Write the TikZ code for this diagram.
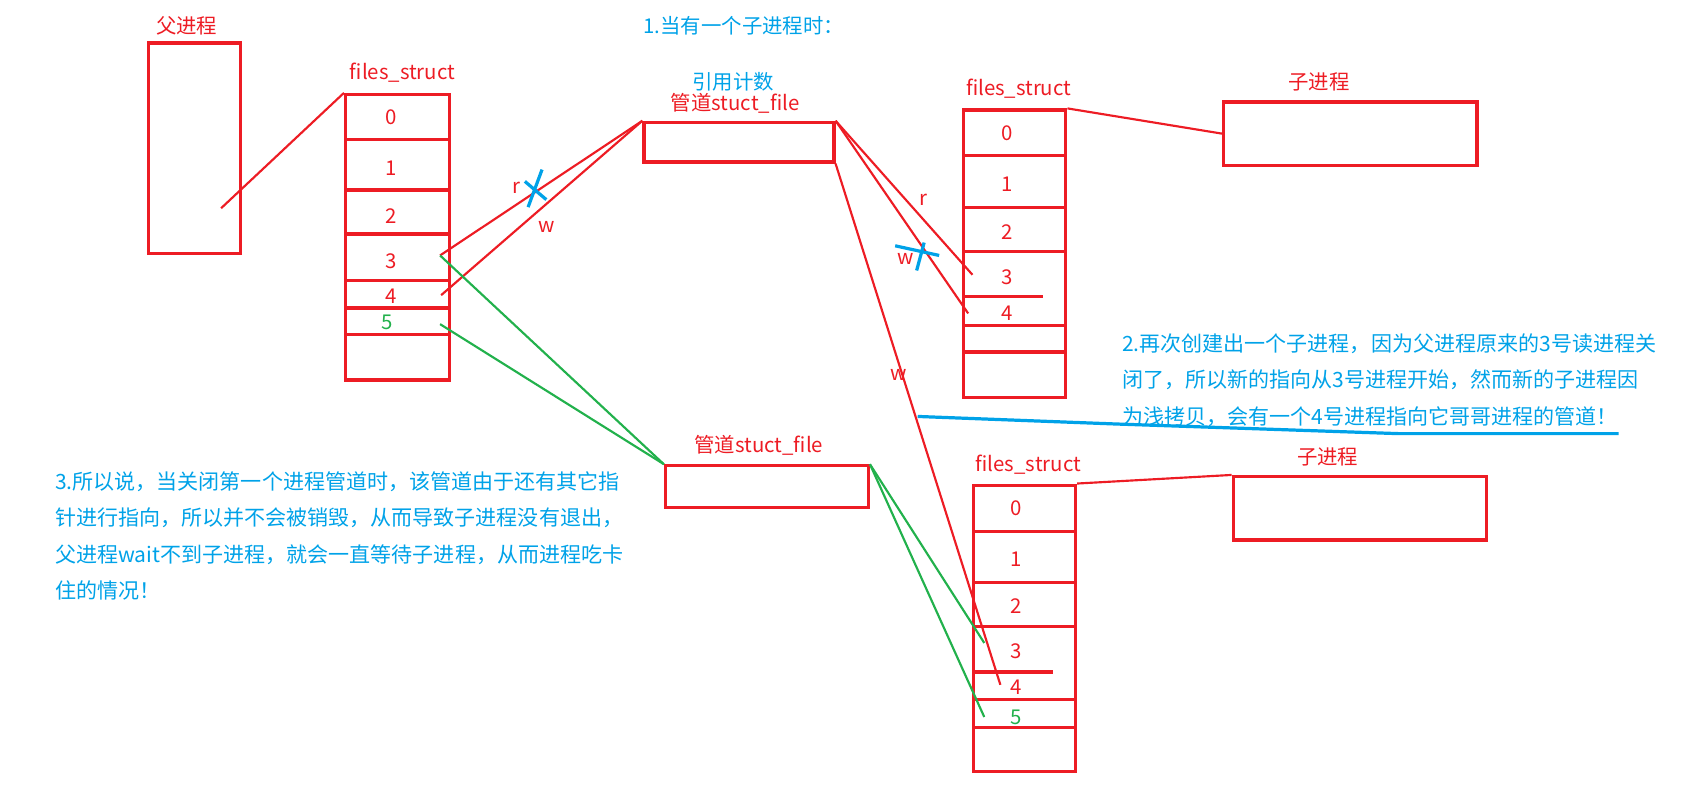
\documentclass[tikz,border=0pt]{standalone}
\usepackage{fontspec}
\setmainfont{Noto Sans CJK SC}
\usetikzlibrary{fit}
\definecolor{pred}{RGB}{237,28,36}
\definecolor{pblue}{RGB}{0,162,232}
\definecolor{pgreen}{RGB}{34,177,76}
\begin{document}
\begin{tikzpicture}[x=0.5pt,y=-0.5pt,
  rbox/.style={draw=pred, line width=1.5pt, inner sep=0pt},
  sepline/.style={draw=pred, line width=1.5pt},
  rline/.style={draw=pred, line width=1pt},
  gline/.style={draw=pgreen, line width=1pt},
  bmark/.style={draw=pblue, line width=1.5pt},
  rlbl/.style={text=pred, font=\fontsize{9.5}{11}\selectfont, inner sep=0pt},
  glbl/.style={text=pgreen, font=\fontsize{9.5}{11}\selectfont, inner sep=0pt},
  blbl/.style={text=pblue, font=\fontsize{9.5}{11}\selectfont, inner sep=0pt},
  para/.style={text=pblue, font=\fontsize{9.8}{17}\selectfont, inner sep=0pt, align=left, anchor=west}
]
\useasboundingbox (0,0) rectangle (1568,732);

% ---------- titles / notes ----------
\node[blbl] (title1) at (693,24) {1.当有一个子进程时：};
\node[para] (note2) at (1045,354) {2.再次创建出一个子进程，因为父进程原来的3号读进程关\\闭了，所以新的指向从3号进程开始，然而新的子进程因\\为浅拷贝，会有一个4号进程指向它哥哥进程的管道！};
\node[para] (note3) at (51,499.5) {3.所以说，当关闭第一个进程管道时，该管道由于还有其它指\\针进行指向，所以并不会被销毁，从而导致子进程没有退出，\\父进程wait不到子进程，就会一直等待子进程，从而进程吃卡\\住的情况！};

% ---------- parent process ----------
\node[rlbl] (plabel) at (174,24) {父进程};
\node[rbox, fit={(138,40) (224,236)}] (parent) {};

% ---------- left files_struct ----------
\node[rlbl] (ltlabel) at (375,68) {files\_struct};
\node[rbox, fit={(322,88) (419,354)}] (lt) {};
\foreach \yy in {130,177,218,261,287,312} \draw[sepline] (322,\yy) -- (419,\yy);
\node[rlbl] (l0) at (364,109) {0};
\node[rlbl] (l1) at (364,157) {1};
\node[rlbl] (l2) at (364,201) {2};
\node[rlbl] (l3n) at (364,243) {3};
\node[rlbl] (l4n) at (364,276) {4};
\node[glbl] (l5n) at (361,300) {5};

% ---------- pipe 1 ----------
\node[blbl] (refcnt) at (683,76) {引用计数};
\node[rlbl] (p1label) at (685,96) {管道stuct\_file};
\node[rbox, fit={(600,114) (777,151)}] (pipe1) {};

% ---------- pipe 2 ----------
\node[rlbl] (p2label) at (707,415) {管道stuct\_file};
\node[rbox, fit={(620,434) (809,473)}] (pipe2) {};

% ---------- upper right files_struct ----------
\node[rlbl] (utlabel) at (949,83) {files\_struct};
\node[rbox, fit={(898,102.5) (993,370)}] (ut) {};
\foreach \yy in {145,193,234,303,328} \draw[sepline] (898,\yy) -- (993,\yy);
\draw[sepline] (898,276.5) -- (972,276.5);
\node[rlbl] (u0) at (938,124) {0};
\node[rlbl] (u1) at (938,172) {1};
\node[rlbl] (u2) at (938,216) {2};
\node[rlbl] (u3n) at (938,258) {3};
\node[rlbl] (u4n) at (938,292) {4};

% ---------- child 1 ----------
\node[rlbl] (c1label) at (1229,76) {子进程};
\node[rbox, fit={(1140,95) (1376,154)}] (child1) {};

% ---------- lower right files_struct ----------
\node[rlbl] (dtlabel) at (958,433) {files\_struct};
\node[rbox, fit={(907,452) (1002,719)}] (dt) {};
\foreach \yy in {495,542.6,584,652,678} \draw[sepline] (907,\yy) -- (1002,\yy);
\draw[sepline] (907,626) -- (981,626);
\node[rlbl] (d0) at (947,473.6) {0};
\node[rlbl] (d1) at (947,521) {1};
\node[rlbl] (d2) at (947,565) {2};
\node[rlbl] (d3n) at (947,607) {3};
\node[rlbl] (d4n) at (947,640) {4};
\node[glbl] (d5n) at (947,668) {5};

% ---------- child 2 ----------
\node[rlbl] (c2label) at (1237,426) {子进程};
\node[rbox, fit={(1149,444) (1385,503)}] (child2) {};

% ---------- connector end points ----------
\coordinate (pin) at (206,194);
\coordinate (l3) at (410,238);
\coordinate (l4) at (411,275);
\coordinate (l5) at (410,302);
\coordinate (u3) at (906,256);
\coordinate (u4) at (902,292);
\coordinate (d3) at (917,599);
\coordinate (d4) at (932,638);
\coordinate (d5) at (917,668);

% ---------- connectors ----------
\draw[rline] (pin) -- (lt.north west);
\draw[rline] (l3) -- (pipe1.north west);
\draw[rline] (l4) -- (pipe1.north west);
\draw[gline] (l3) -- (pipe2.north west);
\draw[gline] (l5) -- (pipe2.north west);
\draw[rline] (pipe1.north east) -- (u3);
\draw[rline] (pipe1.north east) -- (u4);
\draw[rline] (pipe1.south east) -- (d4);
\draw[gline] (pipe2.north east) -- (d3);
\draw[gline] (pipe2.north east) -- (d5);
\draw[rline] (ut.north east) -- (child1.west);
\draw[rline] (dt.north east) -- (child2.north west);

% ---------- r / w labels ----------
\node[rlbl] (rl) at (481,175) {r};
\node[rlbl] (wl) at (509,211) {w};
\node[rlbl] (rr) at (860,186) {r};
\node[rlbl] (wr) at (844,241) {w};
\node[rlbl] (wd) at (837,349) {w};

% ---------- blue crosses and underline ----------
\draw[bmark] (489,169) -- (509,186);
\draw[bmark] (505,158) -- (492,193);
\draw[bmark] (834,229) -- (875,238);
\draw[bmark] (861,226) -- (854,252);
\draw[bmark] (855,388) -- (1039,395) -- (1303,404) -- (1508,404);
\end{tikzpicture}
\end{document}
